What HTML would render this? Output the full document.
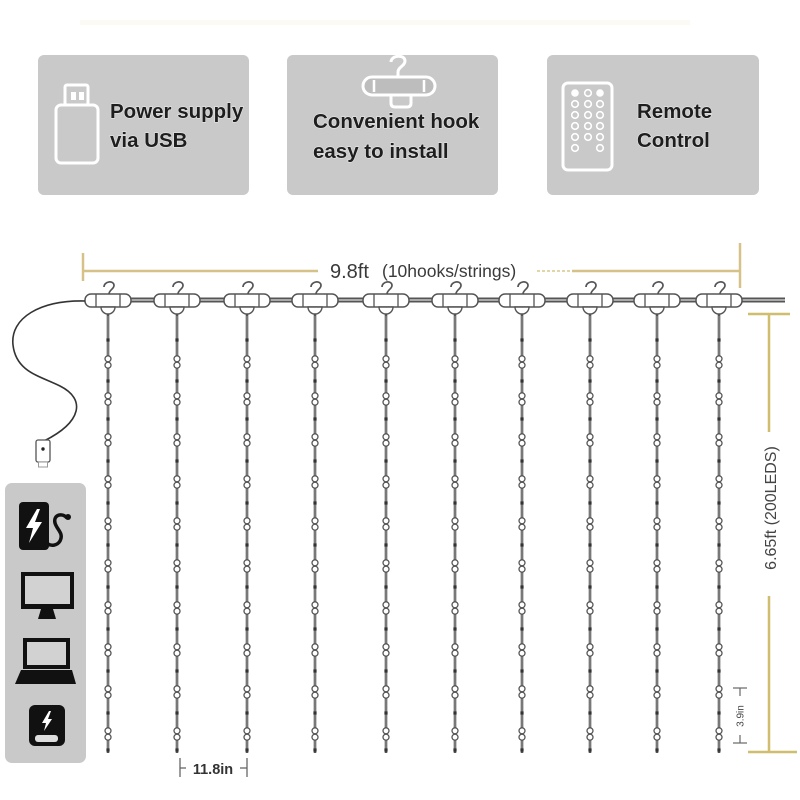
<!DOCTYPE html>
<html><head><meta charset="utf-8"><style>
html,body{margin:0;padding:0;background:#fff;}
svg{display:block;}
text{font-family:"Liberation Sans",Arial,sans-serif;}
</style></head><body>
<svg width="800" height="800" viewBox="0 0 800 800" xmlns="http://www.w3.org/2000/svg">
<defs>
  <g id="bead">
    <circle cx="0" cy="-3.2" r="3" fill="#fff" stroke="#555" stroke-width="1.3"/>
    <circle cx="0" cy="3.2" r="3" fill="#fff" stroke="#555" stroke-width="1.3"/>
  </g>
  <rect id="dot" x="-1.6" y="-1.6" width="3.2" height="3.2" fill="#333"/>
  <g id="strand">
    <line x1="0" y1="314" x2="0" y2="753" stroke="#555" stroke-width="2.6"/>
    <line x1="0" y1="316" x2="0" y2="751" stroke="#bbb" stroke-width="0.7"/>
    <use href="#dot" y="340"/><use href="#dot" y="381"/><use href="#dot" y="419"/><use href="#dot" y="461"/>
    <use href="#dot" y="503"/><use href="#dot" y="545"/><use href="#dot" y="587"/><use href="#dot" y="629"/>
    <use href="#dot" y="671"/><use href="#dot" y="713"/><use href="#dot" y="750"/>
    <use href="#bead" y="362"/><use href="#bead" y="399"/><use href="#bead" y="440"/><use href="#bead" y="482"/>
    <use href="#bead" y="524"/><use href="#bead" y="566"/><use href="#bead" y="608"/><use href="#bead" y="650"/>
    <use href="#bead" y="692"/><use href="#bead" y="734"/>
  </g>
  <g id="unit">
    <path d="M -4 287 C -4 281, 6 280, 6 285.5 C 6 289, 1 290, 1 294" fill="none" stroke="#555" stroke-width="1.7"/>
    <rect x="-23" y="294" width="46" height="13" rx="6" fill="#fff" stroke="#555" stroke-width="1.5"/>
    <line x1="-12" y1="294" x2="-12" y2="307" stroke="#555" stroke-width="1.3"/>
    <line x1="12" y1="294" x2="12" y2="307" stroke="#555" stroke-width="1.3"/>
    <path d="M -7 307 A 7 7 0 0 0 7 307 Z" fill="#fff" stroke="#555" stroke-width="1.4"/>
  </g>
</defs>

<!-- faint top band -->
<rect x="80" y="20" width="610" height="5" fill="#fbfaf4"/>

<!-- feature boxes -->
<rect x="38" y="55" width="211" height="140" rx="6" fill="#c9c9c9"/>
<rect x="287" y="55" width="211" height="140" rx="6" fill="#c9c9c9"/>
<rect x="547" y="55" width="212" height="140" rx="6" fill="#c9c9c9"/>

<!-- USB icon -->
<rect x="65" y="85" width="23" height="20" rx="2" fill="none" stroke="#fff" stroke-width="3"/>
<rect x="71" y="92" width="5" height="8" fill="#fff"/>
<rect x="79" y="92" width="5" height="8" fill="#fff"/>
<rect x="56" y="105" width="42" height="58" rx="5" fill="none" stroke="#fff" stroke-width="3"/>

<!-- hook icon -->
<path d="M 391 62 C 391 55, 405 54, 405 61 C 405 66, 398 67, 398 72 L 398 77" fill="none" stroke="#fff" stroke-width="3"/>
<rect x="363" y="77" width="72" height="18" rx="9" fill="#bdbdbd" stroke="#fff" stroke-width="3"/>
<line x1="374" y1="80" x2="374" y2="92" stroke="#fff" stroke-width="2.5"/>
<line x1="424" y1="80" x2="424" y2="92" stroke="#fff" stroke-width="2.5"/>
<path d="M 391 95 L 391 103 Q 391 107 395 107 L 407 107 Q 411 107 411 103 L 411 95" fill="none" stroke="#fff" stroke-width="3"/>

<!-- remote icon -->
<rect x="563" y="83" width="49" height="87" rx="5" fill="none" stroke="#fff" stroke-width="3"/>
<g fill="none" stroke="#fff" stroke-width="1.6">
  <circle cx="575" cy="104" r="3.3"/><circle cx="575" cy="115" r="3.3"/><circle cx="575" cy="126" r="3.3"/><circle cx="575" cy="137" r="3.3"/><circle cx="575" cy="148" r="3.3"/>
  <circle cx="588" cy="104" r="3.3"/><circle cx="588" cy="115" r="3.3"/><circle cx="588" cy="126" r="3.3"/><circle cx="588" cy="137" r="3.3"/>
  <circle cx="600" cy="104" r="3.3"/><circle cx="600" cy="115" r="3.3"/><circle cx="600" cy="126" r="3.3"/><circle cx="600" cy="137" r="3.3"/><circle cx="600" cy="148" r="3.3"/>
</g>
<circle cx="575" cy="93" r="3.8" fill="#fff"/><circle cx="588" cy="93" r="3.3" fill="none" stroke="#fff" stroke-width="1.6"/><circle cx="600" cy="93" r="3.8" fill="#fff"/>

<g font-size="20.5" font-weight="bold" fill="#1e1e1e" stroke="#e6e6e6" stroke-width="1.2" paint-order="stroke">
  <text x="110" y="118">Power supply</text>
  <text x="110" y="147">via USB</text>
  <text x="313" y="128">Convenient hook</text>
  <text x="313" y="158">easy to install</text>
  <text x="637" y="118">Remote</text>
  <text x="637" y="147">Control</text>
</g>

<!-- top dimension -->
<g stroke="#d6c188" stroke-width="2.5">
  <line x1="83" y1="253" x2="83" y2="281"/>
  <line x1="83" y1="271" x2="318" y2="271"/>
  <line x1="572" y1="271" x2="740" y2="271"/>
  <line x1="740" y1="243" x2="740" y2="288"/>
</g>
<line x1="537" y1="271" x2="572" y2="271" stroke="#e2d6a8" stroke-width="2" stroke-dasharray="3 2"/>
<text x="330" y="278" font-size="20" fill="#3a3a3a">9.8ft</text>
<text x="382" y="277" font-size="17.5" fill="#3a3a3a">(10hooks/strings)</text>

<!-- cable -->
<line x1="85" y1="300" x2="785" y2="300" stroke="#555" stroke-width="5"/>
<line x1="85" y1="300" x2="785" y2="300" stroke="#ddd" stroke-width="1.3"/>

<!-- strands -->
<use href="#strand" x="108"/><use href="#strand" x="177"/><use href="#strand" x="247"/><use href="#strand" x="315"/><use href="#strand" x="386"/>
<use href="#strand" x="455"/><use href="#strand" x="522"/><use href="#strand" x="590"/><use href="#strand" x="657"/><use href="#strand" x="719"/>
<!-- hook units -->
<use href="#unit" x="108"/><use href="#unit" x="177"/><use href="#unit" x="247"/><use href="#unit" x="315"/><use href="#unit" x="386"/>
<use href="#unit" x="455"/><use href="#unit" x="522"/><use href="#unit" x="590"/><use href="#unit" x="657"/><use href="#unit" x="719"/>

<!-- left cord and plug -->
<path d="M 85 301 C 40 300, 10 318, 13 345 C 16 372, 40 376, 60 386 C 86 399, 82 422, 44 441" fill="none" stroke="#333" stroke-width="1.6"/>
<rect x="36" y="440" width="14" height="22" rx="2" fill="#fff" stroke="#555" stroke-width="1.3"/>
<circle cx="43" cy="449" r="1.7" fill="#222"/>
<rect x="38.5" y="462" width="9" height="5" fill="#fff" stroke="#999" stroke-width="1"/>

<!-- right vertical dimension -->
<g stroke="#d0bd6e" stroke-width="2.5">
  <line x1="748" y1="314" x2="790" y2="314"/>
  <line x1="769" y1="314" x2="769" y2="432"/>
  <line x1="769" y1="596" x2="769" y2="752"/>
  <line x1="748" y1="752" x2="797" y2="752"/>
</g>
<text transform="translate(770,508) rotate(-90)" text-anchor="middle" dy="0.36em" font-size="16" fill="#444">6.65ft (200LEDS)</text>

<!-- 3.9in -->
<g stroke="#666" stroke-width="1.2">
  <line x1="733" y1="688" x2="747" y2="688"/>
  <line x1="740" y1="688" x2="740" y2="696"/>
  <line x1="740" y1="735" x2="740" y2="743"/>
  <line x1="733" y1="743" x2="747" y2="743"/>
</g>
<text transform="translate(740,716) rotate(-90)" text-anchor="middle" dy="0.35em" font-size="10" fill="#444">3.9in</text>

<!-- 11.8in -->
<g stroke="#666" stroke-width="1.3">
  <line x1="180" y1="758" x2="180" y2="777"/>
  <line x1="180" y1="768" x2="186" y2="768"/>
  <line x1="240" y1="768" x2="247" y2="768"/>
  <line x1="247" y1="758" x2="247" y2="777"/>
</g>
<text x="213" y="774" text-anchor="middle" font-size="14.5" font-weight="bold" fill="#333">11.8in</text>

<!-- left device panel -->
<rect x="5" y="483" width="81" height="280" rx="7" fill="#c9c9c9"/>
<rect x="19" y="502" width="30" height="48" rx="4" fill="#111"/>
<polygon points="37,509 26,528 33,528 29,543 42,522 35,522 40,509" fill="#fff"/>
<path d="M 67 518 C 62 512, 53 515, 55 523 C 57 530, 64 533, 60 541 C 57 546, 51 546, 48 544" fill="none" stroke="#111" stroke-width="3.5"/>
<circle cx="68" cy="517" r="3" fill="#111"/>

<rect x="21" y="572" width="53" height="37" fill="#111"/>
<rect x="25" y="576" width="45" height="28" fill="#d2d2d2"/>
<polygon points="41,609 53,609 56,619 38,619" fill="#111"/>

<rect x="23" y="638" width="47" height="31" fill="#111"/>
<rect x="27" y="642" width="39" height="23" fill="#d2d2d2"/>
<polygon points="21,670 72,670 76,684 15,684" fill="#111"/>

<rect x="29" y="705" width="36" height="41" rx="6" fill="#111"/>
<polygon points="49,711 42,723 46,723 44,731 52,719 48,719 51,711" fill="#fff"/>
<rect x="35" y="735" width="23" height="7" rx="3" fill="#ddd"/>
</svg>
</body></html>
